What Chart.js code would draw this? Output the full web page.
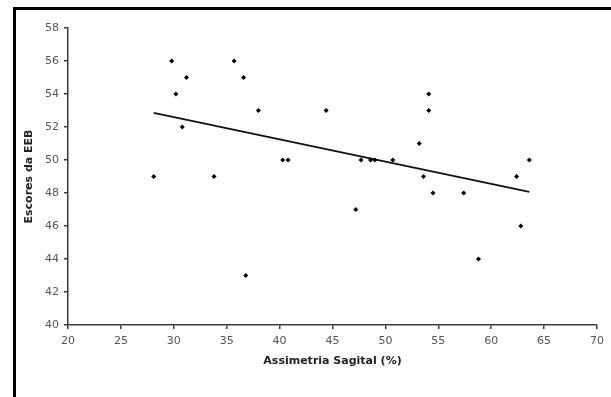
<!DOCTYPE html>
<html>
<head>
<meta charset="utf-8">
<script src="https://cdn.jsdelivr.net/npm/chart.js@4"></script>
<style>
  html, body { margin: 0; padding: 0; background: #fff; overflow: hidden; }
  #frame {
    position: absolute; left: 13px; top: 7px;
    width: 700px; height: 500px;
    border: 3px solid #000; background: #fff;
  }
  #wrap { position: absolute; left: 0; top: 0; width: 611px; height: 397px; }
</style>
</head>
<body>
<div id="frame"></div>
<div id="wrap"><canvas id="myChart" width="611" height="397"></canvas></div>
<script>
// scatter points
const xAssimetria = [28.1, 29.8, 30.2, 31.2, 30.8, 33.8, 35.7, 36.6, 36.8, 38.0,
                     40.3, 40.8, 44.4, 47.2, 47.7, 48.6, 49.0, 50.7, 53.2, 53.6,
                     54.1, 54.1, 54.5, 57.4, 58.8, 62.4, 62.8, 63.6];
const yEscores    = [49, 56, 54, 55, 52, 49, 56, 55, 43, 53,
                     50, 50, 53, 47, 50, 50, 50, 50, 51, 49,
                     54, 53, 48, 48, 44, 49, 46, 50];

// trend line end points
const trendX = [28.1, 63.6];
const trendY = [52.85, 48.07];

const xTicks = [20, 70, 5];   // min, max, step
const yTicks = [40, 58, 2];

const pointData = xAssimetria.map((x, i) => ({ x: x, y: yEscores[i] }));
const trendData = trendX.map((x, i) => ({ x: x, y: trendY[i] }));

const axisColor = "#3a3a3a";
const tickFont = { family: "DejaVu Sans", size: 11 };
const titleFont = { family: "DejaVu Sans", size: 11, weight: "bold" };

new Chart(document.getElementById("myChart"), {
    type: "scatter",
    data: {
        datasets: [
            {
                data: pointData,
                pointStyle: "rectRot",
                pointRadius: 2.5,
                backgroundColor: "#000",
                borderColor: "#000",
                borderWidth: 0,
            },
            {
                type: "line",
                data: trendData,
                borderColor: "#111",
                borderWidth: 1.8,
                pointRadius: 0,
                fill: false,
            }
        ]
    },
    options: {
        responsive: false,
        animation: false,
        layout: { padding: { left: 0, right: 14, top: 28, bottom: 0 } },
        plugins: {
            legend: { display: false },
            tooltip: { enabled: false },
        },
        scales: {
            x: {
                type: "linear",
                min: xTicks[0],
                max: xTicks[1],
                afterFit: scale => { scale.height = 72; },
                border: { display: true, color: axisColor, width: 1.5 },
                grid: { drawOnChartArea: false, drawTicks: true, tickLength: 4, color: axisColor, lineWidth: 1.5 },
                ticks: { stepSize: xTicks[2], color: "#555", font: tickFont, padding: 6, maxRotation: 0 },
                title: {
                    display: true,
                    text: "Assimetria Sagital (%)",
                    color: "#222",
                    font: titleFont,
                    padding: { top: 0, bottom: 29 },
                },
            },
            y: {
                type: "linear",
                min: yTicks[0],
                max: yTicks[1],
                afterFit: scale => { scale.width = 68; },
                border: { display: true, color: axisColor, width: 1.5 },
                grid: { drawOnChartArea: false, drawTicks: true, tickLength: 4, color: axisColor, lineWidth: 1.5 },
                ticks: { stepSize: yTicks[2], color: "#555", font: tickFont, padding: 5 },
                title: {
                    display: true,
                    text: "Escores da EEB",
                    color: "#222",
                    font: titleFont,
                    padding: { top: 23, bottom: 0 },
                },
            }
        }
    }
});
</script>
</body>
</html>
